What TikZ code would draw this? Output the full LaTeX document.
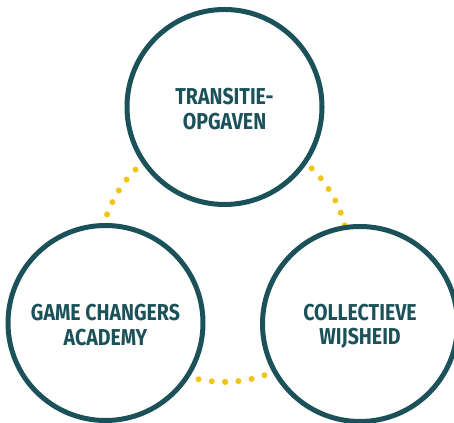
\documentclass[tikz,border=0pt]{standalone}
\usepackage{fontspec}
\newfontfamily\circlefont{Fira Sans}[FakeStretch=0.85]
\definecolor{teal1}{RGB}{27, 82, 90}
\definecolor{gold1}{RGB}{242, 196, 24}
\usetikzlibrary{positioning, calc}
\newcommand{\lowerline}{\rule{0pt}{20.5pt}}

\begin{document}
\begin{tikzpicture}[x=1pt, y=1pt,
    themecircle/.style={circle, draw=teal1, fill=white, line width=5pt, minimum size=195pt,
      align=center, text=teal1, font=\circlefont\bfseries\fontsize{23}{24.5}\selectfont},
    dotline/.style={draw=gold1, line width=6pt, line cap=round, dash pattern=on 0pt off 13.36pt}]
  \useasboundingbox (0,0) rectangle (454,422);

  % dotted ring behind the three circles
  \coordinate (hub) at (224.2, 164.8);
  \draw[dotline] (hub) ++(-89.6:124.7) arc[start angle=-89.6, delta angle=180, radius=124.7];
  \draw[dotline] (hub) ++(-89.6:124.7) arc[start angle=-89.6, delta angle=-180, radius=124.7];

  \node[themecircle] (transitie) at (224.5, 315) {\lowerline TRANSITIE-\\OPGAVEN};
  \node[themecircle] (academy) at (105.5, 99) {\lowerline GAME CHANGERS\\ACADEMY};
  \node[themecircle] (wijsheid) at (360, 98) {\lowerline COLLECTIEVE\\WIJSHEID};
\end{tikzpicture}
\end{document}
